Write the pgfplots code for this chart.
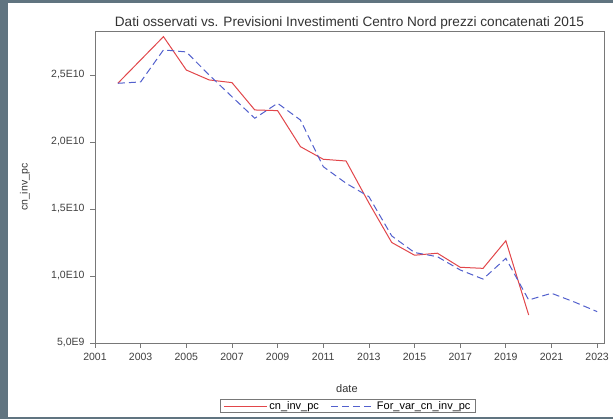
\documentclass[border=0pt]{standalone}
\usepackage{pgfplots}
\pgfplotsset{compat=1.18}
\usepackage{fontspec}
\setmainfont{Liberation Sans}
\definecolor{slate}{RGB}{96,116,128}
\definecolor{obsred}{RGB}{226,70,74}
\definecolor{forblue}{RGB}{82,96,205}
\definecolor{framegray}{RGB}{120,120,120}
\begin{document}
\begin{tikzpicture}[x=1pt,y=1pt]
\useasboundingbox (0,0) rectangle (613,419);
\fill[slate] (0,0) rectangle (613,419);
\fill[white] (8,2) rectangle (613,416);
\begin{axis}[
  at={(95pt,76pt)}, anchor=south west,
  scale only axis, width=509pt, height=311.3pt,
  xmin=2001, xmax=2023.3,
  ymin=5e9, ymax=2.823e10,
  scaled y ticks=false,
  xtick={2001,2003,...,2023},
  xticklabels={2001,2003,2005,2007,2009,2011,2013,2015,2017,2019,2021,2023},
  ytick={5e9,1e10,1.5e10,2e10,2.5e10},
  yticklabels={{5,0E9},{1,0E10},{1,5E10},{2,0E10},{2,5E10}},
  tick pos=left, tick align=outside,
  major tick length=5pt,
  axis line style={framegray, line width=0.8pt},
  tick style={framegray, line width=0.8pt},
  ticklabel style={font=\fontsize{10.5}{12}\selectfont, text=black!75},
  xticklabel style={yshift=-2pt},
  yticklabel style={xshift=-2pt},
  every axis title/.style={at={(axis description cs:0.5,1)}, anchor=center, yshift=9pt,
     font=\fontsize{13.6}{15}\selectfont, text=black!80},
  title={Dati osservati vs. Previsioni Investimenti Centro Nord prezzi concatenati 2015},
  xlabel={date},
  xlabel style={at={(axis description cs:0.495,-0.145)}, anchor=center, font=\fontsize{11}{12}\selectfont, text=black!80},
  ylabel={cn\_inv\_pc},
  ylabel style={at={(axis description cs:-0.1375,0.5)}, anchor=center, font=\fontsize{10.5}{12}\selectfont, text=black!80},
  legend columns=2,
  legend style={at={(axis description cs:0.497,-0.180)}, anchor=north, draw=framegray, line width=0.6pt,
    font=\fontsize{11}{11}\selectfont, inner xsep=3pt, inner ysep=0pt,
    /tikz/every even column/.append style={column sep=10pt}},
  legend image code/.code={\draw[#1] (0pt,0pt) -- (43pt,0pt);},
]
\addplot[obsred, line width=1pt] coordinates {
(2002,2.438e10) (2003,2.612e10) (2004,2.786e10) (2005,2.537e10) (2006,2.463e10)
(2007,2.443e10) (2008,2.239e10) (2009,2.234e10) (2010,1.965e10) (2011,1.871e10)
(2012,1.858e10) (2013,1.545e10) (2014,1.250e10) (2015,1.155e10) (2016,1.170e10)
(2017,1.065e10) (2018,1.057e10) (2019,1.263e10) (2020,0.709e10)};
\addlegendentry{cn\_inv\_pc}
\addplot[forblue, line width=1pt, dash pattern=on 7pt off 4pt] coordinates {
(2002,2.438e10) (2003,2.448e10) (2004,2.687e10) (2005,2.672e10) (2006,2.500e10)
(2007,2.338e10) (2008,2.177e10) (2009,2.289e10) (2010,2.164e10) (2011,1.816e10)
(2012,1.692e10) (2013,1.592e10) (2014,1.299e10) (2015,1.175e10) (2016,1.144e10)
(2017,1.045e10) (2018,0.977e10) (2019,1.132e10) (2020,0.821e10) (2021,0.871e10)
(2022,0.806e10) (2023,0.734e10)};
\addlegendentry{For\_var\_cn\_inv\_pc}
\end{axis}
\end{tikzpicture}
\end{document}
